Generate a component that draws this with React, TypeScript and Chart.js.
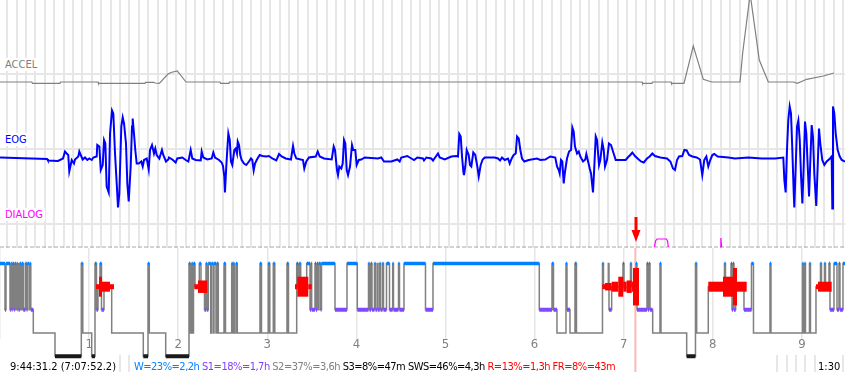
import React, { useEffect, useRef } from "react";
import { Chart, registerables } from "chart.js";

Chart.register(...registerables);

// ---------------- data ----------------
// 90-second signal window (x in seconds from window start)
const WINDOW_SECONDS = 90;
const FIRST_WHOLE_SECOND = 0.78;

// ACCEL [s, g]
const ACCEL: [number, number][] = [
  [0, -0.08], [3.38, -0.08], [3.46, -0.093], [6.39, -0.093], [6.44, -0.08],
  [10.44, -0.08], [10.49, -0.093], [15.44, -0.093], [15.5, -0.083], [16.4, -0.083],
  [16.51, -0.09], [16.97, -0.093], [17.89, 0.0], [18.21, 0.015], [18.88, 0.03],
  [19.81, -0.08], [23.43, -0.08], [23.49, -0.093], [24.39, -0.093], [24.44, -0.08],
  [68.38, -0.08], [68.43, -0.093], [69.44, -0.093], [69.5, -0.08], [71.47, -0.08],
  [71.52, -0.093], [72.85, -0.093], [73.84, 0.28], [74.91, -0.053], [75.8, -0.08],
  [78.82, -0.08], [79.1, 0.21], [79.9, 0.8], [80.87, 0.14], [81.83, -0.08],
  [84.5, -0.08], [84.92, -0.093], [85.92, -0.053], [87.69, -0.02], [88.83, 0.01],
];

// EOG [s, µV]
const EOG: [number, number][] = [
  [0, -17], [5.01, -20], [5.11, -23], [6.18, -24], [6.71, -19], [6.92, -5], [7.1, -9], [7.27, -12],
  [7.38, -45], [7.53, -32], [7.64, -22], [7.88, -29], [7.99, -21], [8.34, -15], [8.45, -5], [8.6, -12],
  [8.81, -21], [9.05, -17], [9.3, -22], [9.51, -19], [9.77, -22], [9.94, -17], [10.3, -15], [10.36, 8],
  [10.58, 5], [10.73, -42], [10.94, -32], [11.08, 18], [11.22, 11], [11.36, -75], [11.58, -87], [11.72, 31],
  [11.93, 77], [12.07, 71], [12.25, -9], [12.43, -69], [12.57, -117], [12.71, -89], [12.92, 45], [13.07, 63],
  [13.21, 51], [13.42, 11], [13.56, -69], [13.71, -105], [13.92, -35], [14.06, 45], [14.13, 61], [14.27, 31],
  [14.41, -2], [14.56, -29], [14.77, -29], [15.05, -25], [15.2, -35], [15.34, -22], [15.63, -19], [15.84, -41],
  [15.98, -2], [16.19, 8], [16.4, -9], [16.54, 1], [16.69, -12], [16.97, -19], [17.25, -2], [17.39, -12],
  [17.68, -25], [17.93, -21],
  [18.0, -17], [18.35, -21], [18.71, -27], [18.88, -19], [19.42, -17], [19.78, -22], [20.06, -25], [20.31, -2],
  [20.48, -19], [20.84, -22], [21.38, -23], [21.48, -5], [21.65, -17], [22.08, -21], [22.55, -19], [22.72, -7],
  [22.9, -17], [23.33, -22], [23.61, -27], [23.75, -34], [23.89, -55], [23.96, -87], [24.1, -35], [24.25, 11],
  [24.32, 31], [24.47, 18], [24.6, -25], [24.74, -32], [24.96, -2], [25.1, 1], [25.24, -9], [25.32, 15],
  [25.46, 8], [25.59, -12], [25.74, -22], [25.99, -29], [26.23, -32], [26.52, -25], [26.73, -19], [26.87, -22],
  [27.02, -43], [27.16, -29], [27.37, -21], [27.66, -12], [27.94, -14], [28.36, -15], [28.65, -14], [29.0, -19],
  [29.43, -23], [29.72, -10], [30.0, -15], [30.43, -19], [30.99, -21], [31.21, 6], [31.35, -9], [31.56, -19],
  [32.03, -21], [32.27, -22], [32.41, -39], [32.62, -25], [32.91, -17], [33.63, -15], [33.84, -5], [34.05, -15],
  [34.51, -19], [35.33, -21], [35.54, 5], [35.68, -2], [35.89, -42], [36.0, -52],
  [36.14, -35], [36.35, -39], [36.5, -29], [36.64, 18], [36.78, 11], [36.93, -42], [37.07, -52], [37.28, -35],
  [37.49, 8], [37.63, -2], [37.84, -2], [37.99, -32], [38.21, -22], [38.48, -21], [38.84, -17], [40.26, -19],
  [40.61, -17], [40.9, -25], [41.68, -25], [42.32, -21], [42.57, -25], [42.74, -17], [43.38, -14], [43.64, -17],
  [44.1, -22], [44.45, -17], [45.05, -19], [45.16, -23], [45.41, -17], [45.94, -19], [46.12, -23], [46.65, -9],
  [46.83, -17], [47.37, -21], [48.07, -15], [48.6, -14], [48.78, -15], [48.92, 30], [49.07, 25], [49.21, -15],
  [49.35, -45], [49.42, -52], [49.56, -35], [49.71, -2], [49.92, -12], [50.06, -32], [50.2, -35], [50.41, -7],
  [50.62, -12], [50.84, -35], [50.99, -55], [51.2, -32], [51.41, -21], [51.63, -17], [52.69, -17], [53.04, -19],
  [53.26, -23], [53.47, -17], [53.76, -22], [54.11, -19],
  [54.29, -29], [54.5, -19], [54.71, -12], [54.93, -9], [55.07, 25], [55.25, 21], [55.42, -2], [55.6, -19],
  [55.84, -25], [56.31, -22], [57.2, -19], [57.55, -22], [58.08, -21], [58.61, -15], [59.14, -17], [59.33, -35],
  [59.51, -42], [59.61, -49], [59.75, -22], [59.89, -25], [60.04, -69], [60.18, -45], [60.39, -19], [60.61, -5],
  [60.82, -2], [60.96, 43], [61.1, 35], [61.24, 5], [61.46, -9], [61.64, -5], [61.81, -15], [62.1, -25],
  [62.34, -21], [62.45, -10], [62.6, -22], [62.81, -39], [62.95, -49], [63.09, -75], [63.16, -87], [63.3, -35],
  [63.45, 25], [63.59, 18], [63.8, -32], [63.94, -22], [64.15, 13], [64.3, -2], [64.44, -35], [64.65, -22],
  [64.86, 11], [65.08, 8], [65.36, -9], [65.58, -22], [66.07, -22], [66.64, -22], [66.86, -17], [67.13, -12],
  [67.35, -7], [67.63, -14], [68.03, -21], [68.27, -25], [68.56, -27], [68.91, -19], [69.2, -15], [69.48, -9],
  [69.76, -14], [70.33, -17], [71.04, -19], [71.4, -25], [71.68, -39], [71.89, -42],
  [72.11, -22], [72.32, -15], [72.67, -14], [72.89, -2], [73.14, -3], [73.39, -12], [73.74, -15], [74.2, -17],
  [74.56, -21], [74.8, -52], [75.01, -22], [75.23, -15], [75.44, -35], [75.65, -22], [75.87, -12], [76.08, -10],
  [76.44, -15], [77.57, -17], [78.28, -19], [79.7, -17], [81.13, -19], [82.55, -19], [83.43, -17], [83.54, -62],
  [83.68, -87], [83.82, -2], [83.96, 58], [84.11, 85], [84.25, 71], [84.39, -2], [84.54, -89], [84.6, -117],
  [84.75, -35], [84.89, 45], [85.03, 57], [85.18, 18], [85.32, -55], [85.46, -109], [85.6, -35], [85.74, 55],
  [85.88, 31], [86.03, -35], [86.17, -95], [86.31, -22], [86.45, 48], [86.59, 25], [86.73, -49], [86.94, -114],
  [87.09, -35], [87.23, 41], [87.37, 11], [87.58, -22], [87.8, -32], [88.05, -25], [88.4, -19], [88.58, -15],
  [88.65, -119], [88.72, 85], [88.86, 71], [89.01, 31], [89.22, -2], [89.44, -15], [89.65, -22], [90.0, -25],
];

// DIALOG [s, value]; null = no signal
const DIALOG_BASELINE = -23;
const DIALOG: [number, number | null][] = [
  [69.71, -23], [69.82, -17], [69.98, -15], [70.98, -15], [71.1, -17], [71.18, -23],
  [74.0, null],
  [76.7, -23], [76.78, -14], [76.86, -23],
];

const CHANNEL_NAMES = ["ACCEL", "EOG", "DIALOG"];

// Hypnogram: [start hour, stage]
const NIGHT_END_H = 9.484;
const HYPNOGRAM: [number, string][] = [
  [0, "W"], [0.0561, "S1"], [0.0673, "W"], [0.1122, "S1"], [0.1212, "W"], [0.1313, "S1"], [0.1403, "W"],
  [0.1571, "S1"], [0.1661, "W"], [0.1796, "S1"], [0.1886, "W"], [0.1987, "S1"], [0.2065, "W"], [0.2132, "S1"],
  [0.2222, "W"], [0.2357, "S1"], [0.2447, "W"], [0.2615, "S1"], [0.284, "W"], [0.2997, "S1"], [0.3086, "W"],
  [0.3288, "S1"], [0.3367, "W"], [0.3457, "S1"], [0.3737, "S2"], [0.6173, "S3"], [0.9125, "W"], [0.9293, "S2"],
  [1.0292, "S3"], [1.0662, "W"], [1.0831, "S1"], [1.0999, "R"], [1.1223, "W"], [1.1392, "S1"], [1.1672, "R"],
  [1.2536, "S2"], [1.6083, "S3"], [1.6611, "W"], [1.6756, "S2"], [1.8597, "S3"], [2.1212, "W"], [2.1358, "S2"],
  [2.1515, "W"], [2.1627, "S2"], [2.1717, "W"], [2.1886, "R"], [2.2368, "W"], [2.2559, "R"], [2.2952, "S1"],
  [2.312, "W"], [2.321, "S1"], [2.3378, "W"], [2.3648, "S2"], [2.3737, "W"], [2.3939, "S2"], [2.4018, "W"],
  [2.4242, "S2"], [2.4332, "W"], [2.4501, "S2"], [2.514, "W"], [2.5309, "S2"], [2.6004, "W"], [2.6117, "S2"],
  [2.6184, "W"], [2.6296, "S2"], [2.6487, "W"], [2.6633, "S2"], [2.9181, "W"], [2.9349, "S2"], [3.0112, "W"],
  [3.0281, "S2"], [3.0673, "W"], [3.0842, "S2"], [3.2211, "W"], [3.2379, "S2"], [3.33, "W"], [3.3446, "R"],
  [3.3591, "W"], [3.3749, "R"], [3.4422, "W"], [3.4792, "S1"], [3.4905, "W"], [3.4983, "S1"], [3.5354, "W"],
  [3.5466, "S1"], [3.5578, "W"], [3.5724, "S1"], [3.5802, "W"], [3.5993, "S1"], [3.6083, "W"], [3.7598, "S1"],
  [3.8945, "W"], [4.0101, "S1"], [4.1358, "W"], [4.147, "S1"], [4.1639, "W"], [4.1751, "S1"], [4.2031, "W"],
  [4.2144, "S1"], [4.2346, "W"], [4.2424, "S1"], [4.2615, "W"], [4.2705, "S1"], [4.2929, "W"], [4.3042, "S1"],
  [4.3378, "W"], [4.3715, "S1"], [4.4074, "W"], [4.4164, "S1"], [4.4725, "W"], [4.4837, "S1"], [4.5342, "W"],
  [4.7755, "S1"], [4.8597, "W"], [6.0527, "S1"], [6.1953, "W"], [6.2121, "S1"], [6.2514, "S2"], [6.3524, "W"],
  [6.3636, "S1"], [6.3973, "S2"], [6.4534, "W"], [6.4703, "S2"], [6.7621, "W"], [6.7733, "R"], [6.8272, "W"],
  [6.835, "S1"], [6.8653, "R"], [6.9921, "W"], [7.0034, "R"], [7.0763, "W"], [7.0875, "R"], [7.138, "W"],
  [7.1493, "S1"], [7.2615, "W"], [7.2727, "S1"], [7.284, "W"], [7.2952, "S1"], [7.3255, "S2"], [7.4074, "W"],
  [7.4186, "S2"], [7.7071, "S3"], [7.8058, "W"], [7.8193, "S2"], [7.9495, "R"], [8.1313, "W"], [8.1425, "R"],
  [8.2043, "W"], [8.2155, "S1"], [8.2267, "W"], [8.2379, "S1"], [8.257, "R"], [8.3502, "S1"], [8.4343, "W"],
  [8.4568, "S2"], [8.642, "W"], [8.6532, "S2"], [9.0067, "W"], [9.0157, "S2"], [9.0292, "W"], [9.0404, "S2"],
  [9.0853, "W"], [9.0965, "S2"], [9.1582, "R"], [9.2088, "W"], [9.22, "R"], [9.2536, "W"], [9.2649, "R"],
  [9.3042, "W"], [9.3154, "S1"], [9.3603, "W"], [9.3939, "S1"], [9.4164, "W"], [9.4276, "S1"], [9.4613, "W"],
];

// REM density steps: [start hour, density] (0 = no REM)
const REM_DENSITY: [number, number][] = [
  [1.0774, 2], [1.1111, 8], [1.1448, 4], [1.2346, 2], [1.2795, 0],
  [2.1807, 2], [2.2222, 5], [2.3266, 0],
  [3.3109, 2], [3.3367, 8], [3.4602, 2], [3.4983, 0],
  [6.7598, 2], [6.7901, 3], [6.8653, 4], [6.9394, 8], [6.9955, 4], [7.0337, 5], [7.0898, 4], [7.1044, 15], [7.1717, 0],
  [7.9495, 4], [8.1145, 8], [8.2267, 15], [8.2716, 4], [8.3805, 0],
  [9.1582, 2], [9.1807, 4], [9.3345, 0],
];

const HOUR_LABELS = ["1", "2", "3", "4", "5", "6", "7", "8", "9"];

const CURSOR_CLOCK = "9:44:31.2";
const CURSOR_ELAPSED = "7:07:52.2";
const CURSOR_WINDOW_SEC = 67.74;

const SUMMARY_TEXT = ["W=23%=2,2h", "S1=18%=1,7h", "S2=37%=3,6h", "S3=8%=47m", "SWS=46%=4,3h", "R=13%=1,3h", "FR=8%=43m"];

// ---------------- styles ----------------
const FONT = '"DejaVu Sans Condensed", "Liberation Sans", sans-serif';
const STAGE_LEVEL: Record<string, number> = { W: 4, R: 3, S1: 2, S2: 1, S3: 0 };
const SUMMARY_COLOR = ["#0080ff", "#8040ff", "#808080", "#000000", "#000000", "#ff0000", "#ff0000"];
const CHANNEL_COLOR = ["#808080", "#0000ff", "#ff00ff"];
const CHANNEL_LABEL_TOP = [58, 133, 208];
const GRID = "#e7e7e7";

const parseElapsed = (s: string) => {
  const [h, m, sec] = s.split(":").map(Number);
  return h + m / 60 + sec / 3600;
};
const CURSOR_HOUR = parseElapsed(CURSOR_ELAPSED);
const WINDOW_LABEL = `${Math.floor(WINDOW_SECONDS / 60)}:${String(WINDOW_SECONDS % 60).padStart(2, "0")}`;

const gridSeconds: number[] = [];
for (let s = FIRST_WHOLE_SECOND; s < WINDOW_SECONDS; s += 1) gridSeconds.push(s);

const line = (x0: number, x1: number, y: number) => [{ x: x0, y }, { x: x1, y }];

function stageOverlay(stage: string) {
  const pts: { x: number; y: number | null }[] = [];
  HYPNOGRAM.forEach(([t, s], i) => {
    if (s !== stage) return;
    const t1 = i + 1 < HYPNOGRAM.length ? HYPNOGRAM[i + 1][0] : NIGHT_END_H;
    pts.push({ x: t, y: STAGE_LEVEL[s] }, { x: t1, y: STAGE_LEVEL[s] }, { x: t1, y: null });
  });
  return pts;
}

export default function App() {
  const refA = useRef<HTMLCanvasElement>(null);
  const refB = useRef<HTMLCanvasElement>(null);

  useEffect(() => {
    const arrowPlugin = {
      id: "cursorArrow",
      afterDatasetsDraw(chart: any) {
        const { ctx } = chart;
        const x = chart.scales.x.getPixelForValue(CURSOR_WINDOW_SEC);
        const yb = chart.scales.yD.getPixelForValue(DIALOG_BASELINE);
        ctx.save();
        ctx.fillStyle = "#ff0000";
        ctx.fillRect(x - 1.5, yb - 30, 3, 14);
        ctx.beginPath();
        ctx.moveTo(x - 4.5, yb - 17);
        ctx.lineTo(x + 4.5, yb - 17);
        ctx.lineTo(x, yb - 5);
        ctx.closePath();
        ctx.fill();
        ctx.restore();
      },
    };

    const chartA = new Chart(refA.current!, {
      type: "line",
      data: {
        datasets: [
          { data: line(0, WINDOW_SECONDS, 0), yAxisID: "yA", borderColor: GRID, borderWidth: 2, order: 10 },
          { data: line(0, WINDOW_SECONDS, 0), yAxisID: "yE", borderColor: GRID, borderWidth: 2, order: 10 },
          { data: line(0, WINDOW_SECONDS, 0), yAxisID: "yD", borderColor: GRID, borderWidth: 2, order: 10 },
          {
            data: line(0, WINDOW_SECONDS, DIALOG_BASELINE), yAxisID: "yD", borderColor: "#a8a8a8",
            borderWidth: 1, borderDash: [4, 2], order: 9,
          },
          { data: ACCEL.map(([x, y]) => ({ x, y })), yAxisID: "yA", borderColor: CHANNEL_COLOR[0], borderWidth: 1.2, order: 1 },
          { data: EOG.map(([x, y]) => ({ x, y })), yAxisID: "yE", borderColor: CHANNEL_COLOR[1], borderWidth: 2, order: 1 },
          { data: DIALOG.map(([x, y]) => ({ x, y })), yAxisID: "yD", borderColor: CHANNEL_COLOR[2], borderWidth: 1.2, order: 1, spanGaps: false },
        ],
      },
      options: {
        responsive: false,
        animation: false,
        devicePixelRatio: 1,
        events: [],
        layout: { padding: 0 },
        elements: { point: { radius: 0 }, line: { tension: 0 } },
        plugins: { legend: { display: false }, tooltip: { enabled: false } },
        scales: {
          x: {
            type: "linear", min: 0, max: WINDOW_SECONDS,
            afterBuildTicks: (axis: any) => { axis.ticks = gridSeconds.map((value) => ({ value })); },
            ticks: { display: false },
            grid: { color: GRID, lineWidth: 2, drawTicks: false },
            border: { display: false },
          },
          yA: { type: "linear", display: false, min: -2.98, max: 0.74 },
          yE: { type: "linear", display: false, min: -446, max: 298 },
          yD: { type: "linear", display: false, min: -148, max: 224 },
        },
      },
      plugins: [arrowPlugin],
    } as any);

    const bgPlugin = {
      id: "hypBg",
      beforeDraw(chart: any) {
        const { ctx } = chart;
        ctx.save();
        ctx.fillStyle = "#ffffff";
        ctx.fillRect(0, 0, chart.width, 107);
        ctx.fillRect(0, 107, 118, 17);
        ctx.fillRect(131, 107, 645, 17);
        ctx.fillRect(816, 107, 22, 17);
        ctx.restore();
      },
      beforeDatasetsDraw(chart: any) {
        const { ctx } = chart;
        const x = chart.scales.x.getPixelForValue(CURSOR_HOUR);
        ctx.save();
        ctx.strokeStyle = "#ffb8b8";
        ctx.lineWidth = 2;
        ctx.beginPath();
        ctx.moveTo(x, 0);
        ctx.lineTo(x, chart.height);
        ctx.stroke();
        ctx.restore();
      },
    };

    const stepPts = HYPNOGRAM.map(([t, s]) => ({ x: t, y: STAGE_LEVEL[s] }));
    stepPts.push({ x: NIGHT_END_H, y: STAGE_LEVEL[HYPNOGRAM[HYPNOGRAM.length - 1][1]] });

    const chartB = new Chart(refB.current!, {
      type: "line",
      data: {
        datasets: [
          { data: stepPts, borderColor: "#808080", borderWidth: 1.5, stepped: true, order: 10, clip: false },
          { data: stageOverlay("S1"), borderColor: "#8048ff", borderWidth: 4, order: 3, clip: false, spanGaps: false },
          { data: stageOverlay("S3"), borderColor: "#1a1a1a", borderWidth: 4, order: 3, clip: false, spanGaps: false },
          { data: stageOverlay("W"), borderColor: "#0080ff", borderWidth: 3.5, order: 2, clip: false, spanGaps: false },
          {
            data: REM_DENSITY.map(([t]) => ({ x: t, y: STAGE_LEVEL.R })),
            borderColor: "#ff0000", borderWidth: 4, order: 1, clip: false,
            segment: {
              borderWidth: (c: any) => (REM_DENSITY[c.p0DataIndex][1] > 0 ? REM_DENSITY[c.p0DataIndex][1] * 2.5 : 1),
              borderColor: (c: any) => (REM_DENSITY[c.p0DataIndex][1] > 0 ? "#ff0000" : "rgba(0,0,0,0)"),
            },
          },
        ],
      },
      options: {
        responsive: false,
        animation: false,
        devicePixelRatio: 1,
        events: [],
        layout: { padding: { left: 0, right: 0, top: 0, bottom: 21.4 } },
        elements: { point: { radius: 0 }, line: { tension: 0 } },
        plugins: { legend: { display: false }, tooltip: { enabled: false } },
        scales: {
          x: {
            type: "linear", min: 0, max: NIGHT_END_H,
            ticks: {
              stepSize: 1, includeBounds: false, autoSkip: false, maxRotation: 0, padding: -2,
              color: "#808080", font: { family: FONT, size: 13 },
              callback: (v: any) => HOUR_LABELS[Number(v) - 1] ?? "",
            },
            grid: { color: "#e6e6e6", lineWidth: 1.5, drawTicks: false },
            border: { display: false },
          },
          y: { type: "linear", display: false, min: 0.741, max: 4.672 },
        },
      },
      plugins: [bgPlugin],
    } as any);

    return () => {
      chartA.destroy();
      chartB.destroy();
    };
  }, []);

  const textStyle: React.CSSProperties = {
    position: "absolute", fontFamily: FONT, fontSize: 11, lineHeight: "13px", whiteSpace: "pre",
  };

  return (
    <div style={{ position: "fixed", left: 0, top: 0, width: 845, height: 372, overflow: "hidden", background: "#fff" }}>
      <canvas ref={refA} width={845} height={372} style={{ position: "absolute", left: 0, top: 0, width: 845, height: 372 }} />
      <canvas ref={refB} width={845} height={124} style={{ position: "absolute", left: 0, top: 248, width: 845, height: 124 }} />
      {CHANNEL_NAMES.map((n, i) => (
        <div key={n} style={{ ...textStyle, left: 3, top: CHANNEL_LABEL_TOP[i], color: CHANNEL_COLOR[i], background: "#fff", padding: "0 2px" }}>
          {n}
        </div>
      ))}
      <div style={{ ...textStyle, left: 10, top: 360, color: "#000" }}>{`${CURSOR_CLOCK} (${CURSOR_ELAPSED})`}</div>
      <div style={{ ...textStyle, left: 134, top: 360, letterSpacing: "-0.5px" }}>
        {SUMMARY_TEXT.map((s, i) => (
          <span key={s} style={{ color: SUMMARY_COLOR[i] }}>{(i ? " " : "") + s}</span>
        ))}
      </div>
      <div style={{ ...textStyle, left: 818, top: 360, color: "#000" }}>{WINDOW_LABEL}</div>
    </div>
  );
}
